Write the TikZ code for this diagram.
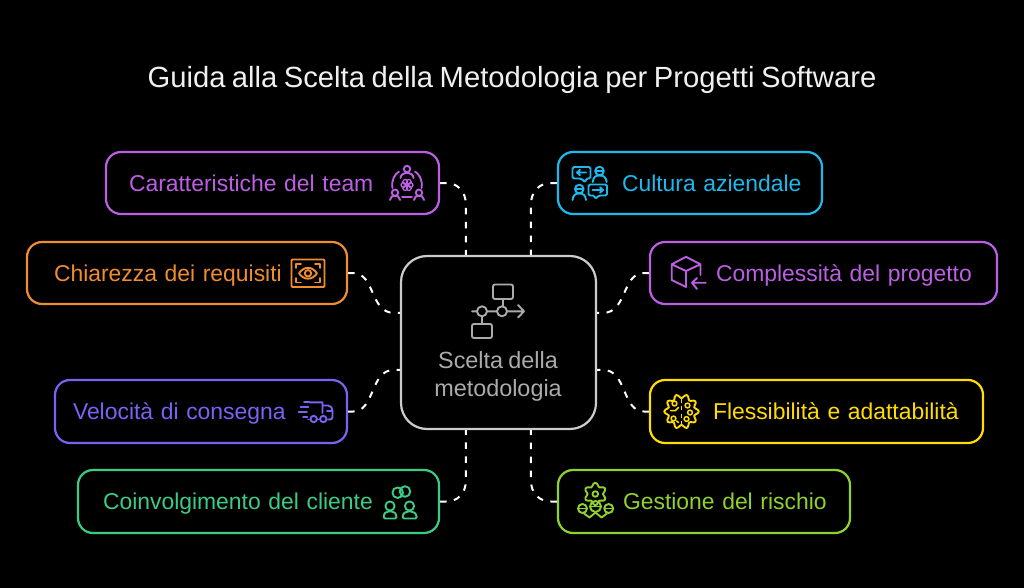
\documentclass[tikz,border=0pt]{standalone}
\usepackage{fontspec}
\usetikzlibrary{calc}
\setmainfont[WordSpace=0.8]{Liberation Sans}
\definecolor{cTeam}{HTML}{BB5FE3}
\definecolor{cOrange}{HTML}{EF8D2F}
\definecolor{cIndigo}{HTML}{7A62F2}
\definecolor{cGreen}{HTML}{3CCB85}
\definecolor{cCyan}{HTML}{1DB8EC}
\definecolor{cYellow}{HTML}{FFDD00}
\definecolor{cLime}{HTML}{8FD22F}
\definecolor{cGrey}{HTML}{ABABAB}
\tikzset{
  x=1pt,y=-1pt,
  boxnode/.style={draw=#1,text=#1,line width=2.2pt,rounded corners=15pt,font=\fontsize{22.9}{26}\selectfont,text height=20pt,text depth=4pt,inner ysep=0pt,inner xsep=2pt,align=left},
  link/.style={draw=white,line width=2pt,dash pattern=on 6.5pt off 7.5pt},
  icon/.style={draw=#1,line width=1.9pt,line cap=round,line join=round},
}
\newcommand{\lbl}[8]{% name,x1,y1,x2,y2,colour,text left inset,text
  \pgfmathsetmacro{\bw}{#4-#2}\pgfmathsetmacro{\bh}{#5-#3}\pgfmathsetmacro{\tw}{#4-#2-4}\pgfmathsetmacro{\ti}{#7-2}
  \node[boxnode=#6,minimum width=\bw pt,minimum height=\bh pt,text width=\tw pt] (#1) at ({(#2+#4)/2},{(#3+#5)/2}) {\hspace*{\ti pt}#8};}
\begin{document}
\begin{tikzpicture}
\useasboundingbox[fill=black] (0,0) rectangle (1024,588);
\node[text=white!94!black,font=\fontsize{29.2}{32}\selectfont] (title) at (512,80) {Guida alla Scelta della Metodologia per Progetti Software};

% centre
\node[draw=white!80!black,line width=2.2pt,rounded corners=26pt,minimum width=195pt,minimum height=173pt,inner sep=0pt] (ctr) at (498.5,342.5) {};
\node[text=cGrey,font=\fontsize{23.4}{28}\selectfont,align=center,inner sep=0pt] (ctrtext) at (498,376) {Scelta della\\metodologia};

% boxes
\lbl{team}{106}{152}{439}{214}{cTeam}{23}{Caratteristiche del team}
\lbl{req}{27}{242}{347}{304}{cOrange}{27}{Chiarezza dei requisiti}
\lbl{speed}{55}{380}{347}{443}{cIndigo}{18}{Velocità di consegna}
\lbl{client}{78}{470}{439}{533}{cGreen}{25}{Coinvolgimento del cliente}
\lbl{cult}{558}{152}{822}{214}{cCyan}{64}{Cultura aziendale}
\lbl{cplx}{650}{242}{997}{304}{cTeam}{66}{Complessità del progetto}
\lbl{flex}{650}{380}{983}{443}{cYellow}{63}{Flessibilità e adattabilità}
\lbl{risk}{558}{470}{850}{533}{cLime}{65}{Gestione del rischio}

% centre ports
\coordinate (pTL) at ($(ctr.north west)+(66,0)$);
\coordinate (pTR) at ($(ctr.north west)+(131,0)$);
\coordinate (pBL) at ($(ctr.south west)+(66,0)$);
\coordinate (pBR) at ($(ctr.south west)+(131,0)$);
\coordinate (pLT) at ($(ctr.north west)+(0,58)$);
\coordinate (pLB) at ($(ctr.north west)+(0,115)$);
\coordinate (pRT) at ($(ctr.north east)+(0,58)$);
\coordinate (pRB) at ($(ctr.north east)+(0,115)$);

% connectors
\draw[link] (team.east) -- ++(6,0) .. controls +(11,0) and ($(pTL)+(0,-64)$) .. ($(pTL)+(0,-50)$) -- (pTL);
\draw[link] (cult.west) -- ++(-6,0) .. controls +(-11,0) and ($(pTR)+(0,-64)$) .. ($(pTR)+(0,-50)$) -- (pTR);
\draw[link] (client.east) -- ++(6,0) .. controls +(11,0) and ($(pBL)+(0,64)$) .. ($(pBL)+(0,50)$) -- (pBL);
\draw[link] (risk.west) -- ++(-6,0) .. controls +(-11,0) and ($(pBR)+(0,64)$) .. ($(pBR)+(0,50)$) -- (pBR);
\draw[link] (req.east) -- ++(5,0) .. controls +(22,0) and ($(pLT)+(-30,0)$) .. ($(pLT)+(-6,0)$) -- (pLT);
\draw[link] (speed.east) -- ++(5,0) .. controls +(22,0) and ($(pLB)+(-30,0)$) .. ($(pLB)+(-6,0)$) -- (pLB);
\draw[link] (cplx.west) -- ++(-5,0) .. controls +(-22,0) and ($(pRT)+(30,0)$) .. ($(pRT)+(6,0)$) -- (pRT);
\draw[link] (flex.west) -- ++(-5,0) .. controls +(-22,0) and ($(pRB)+(30,0)$) .. ($(pRB)+(6,0)$) -- (pRB);

% centre icon
\begin{scope}[icon=cGrey]
\draw[rounded corners=2pt] (493,284.5) rectangle (513,299);
\draw[rounded corners=2pt] (472,324) rectangle (492,338);
\draw (472,311.3) -- (477,311.3) (487,311.3) -- (497,311.3) (507,311.3) -- (524,311.3) (518,305) -- (524,311.3) -- (518,317.5);
\draw (482,311.3) circle (5) (502,311.3) circle (5);
\draw (503,299) -- (503,306) (482,316.5) -- (482,324);
\end{scope}

% team icon
\begin{scope}[icon=cTeam]
\draw (407,169) circle (3.2) (400.5,178) .. controls (401,171) and (413,171) .. (413.5,178);
\draw (395,192.7) circle (3.2) (390,200) .. controls (390.5,194) and (399.5,194) .. (400,200);
\draw (419,192.7) circle (3.2) (414,200) .. controls (414.5,194) and (423.5,194) .. (424,200);
\draw (392.5,188) .. controls (391,180) and (395,174) .. (399,171.5) (421.5,188) .. controls (423,180) and (419,174) .. (415,171.5) (402,197) -- (412,197);
\foreach \a in {0,60,...,300}{\draw[line width=1.3pt] ($(407,185)+(\a:3.6)$) circle (2.4);}
\draw[line width=1.3pt] (407,185) circle (1.2);
\end{scope}

% eye icon
\begin{scope}[icon=cOrange]
\draw[rounded corners=1pt] (291.5,259.5) rectangle (324.5,287);
\draw (296,268) -- (296,264) -- (301,264) (315,264) -- (320,264) -- (320,268) (320,278) -- (320,282.5) -- (315,282.5) (301,282.5) -- (296,282.5) -- (296,278);
\draw (299,273.3) .. controls (304,266) and (312,266) .. (317,273.3) .. controls (312,280.5) and (304,280.5) .. (299,273.3) -- cycle;
\draw (308,273.3) circle (3.2);
\end{scope}

% truck icon
\begin{scope}[icon=cIndigo]
\draw (304,402.3) -- (309.5,402.3) (300.5,407) -- (308.5,407) (298.5,412) -- (307,412) (303,417) -- (307.5,417);
\draw (309.5,402.3) -- (322.5,402.3) -- (322.5,413) (322.5,405.5) -- (328,405.5) .. controls (331,405.5) and (332.5,408) .. (332.5,411) -- (332.5,417) .. controls (332.5,419) and (331.5,419.5) .. (328,419.5) (327,411) -- (332.5,411);
\draw (317.5,419.5) -- (319,419.5) (308,419.5) -- (310,419.5);
\draw (313.7,419) circle (3.2) (323.3,419) circle (3.2);
\end{scope}

% client icon
\begin{scope}[icon=cGreen]
\draw (397.7,492.7) circle (5.3) (405,491.5) circle (5.3);
\draw (390,506) circle (4.6) (409.5,506) circle (4.6);
\draw[rounded corners=1.5pt] (383.5,518.5) .. controls (384,513) and (386,511.5) .. (390,511.5) .. controls (394,511.5) and (396,513) .. (396.7,518.5) -- cycle;
\draw[rounded corners=1.5pt] (402.5,518.5) .. controls (403,513) and (405.5,511.5) .. (409.5,511.5) .. controls (413.5,511.5) and (416,513) .. (417,518.5) -- cycle;
\end{scope}

% culture icon
\begin{scope}[icon=cCyan]
\draw[rounded corners=1.5pt] (572.5,167) -- (590.5,167) -- (590.5,178.5) -- (586,178.5) -- (585.5,182.5) -- (581,178.5) -- (572.5,178.5) -- cycle;
\draw (586,172.5) -- (577,172.5) (580,169.8) -- (577,172.5) -- (580,175.2);
\draw (599.5,171) circle (4.3) (595.3,171) -- (603.7,171);
\draw (592.7,182) .. controls (593.5,176.5) and (596,175.5) .. (599.5,175.5) .. controls (603,175.5) and (606,176.5) .. (606.7,182);
\draw (579.3,189) circle (4.3) (575,189) -- (583.6,189);
\draw (572.5,200) .. controls (573,195) and (575.5,193.5) .. (579.3,193.5) .. controls (583,193.5) and (585.5,195) .. (586,200);
\draw[rounded corners=1.5pt] (588.5,184.5) -- (607,184.5) -- (607,195.5) -- (599,195.5) -- (595,199) -- (594.5,195.5) -- (588.5,195.5) -- cycle;
\draw (592.5,190) -- (603,190) (600,187.3) -- (603,190) -- (600,192.7);
\end{scope}

% cube icon
\begin{scope}[icon=cTeam]
\draw (700.5,275) -- (700.5,264.3) -- (686,256.8) -- (671.7,264.3) -- (671.7,280) -- (686,287) (671.7,264.3) -- (686,271) -- (700.5,264.3) (686,271) -- (686,287);
\draw (705.7,282.7) -- (692,282.7) (697,278) -- (692,282.7) -- (697,289);
\end{scope}

% brain icon
\begin{scope}[icon=cYellow,shift={(681.5,411.5)}]
\draw plot[smooth cycle,samples at={0,6,...,354},variable=\t] (\t:{15.3+2*cos(10*\t)});
\draw (0,-12) -- (0,-9) (0,-5) -- (0,-2) (0,3) -- (0,6) (0,10) -- (0,12);
\draw[line width=1.5pt] (-7,-8) circle (2.4) (6,-6) circle (2.4) (-8,7) circle (2.4) (8.5,1) circle (2.4) (5,7.5) circle (2.4);
\draw[line width=1.5pt] (-11,-1) -- (-6,-1) -- (-3,-4) (-5,9.5) -- (-3,11);
\end{scope}

% gear + people icon
\begin{scope}[icon=cLime]
\begin{scope}[shift={(595.3,494)}]
\draw plot[smooth cycle,samples at={0,10,...,350},variable=\t] (\t:{9.5+1.8*cos(6*\t+180)});
\draw (0,0) circle (2.8);
\end{scope}
\draw (582.5,508.5) circle (4.5) (595.5,506.5) circle (5.5) (608.7,508.5) circle (4.5);
\draw (590.5,506.5) -- (600.5,506.5) (578.5,508.5) -- (586.5,508.5) (604.7,508.5) -- (612.7,508.5);
\draw (584,513.5) -- (589.5,517.5) -- (595.5,512.5) -- (601.5,517.5) -- (607,513.5);
\end{scope}
\end{tikzpicture}
\end{document}
